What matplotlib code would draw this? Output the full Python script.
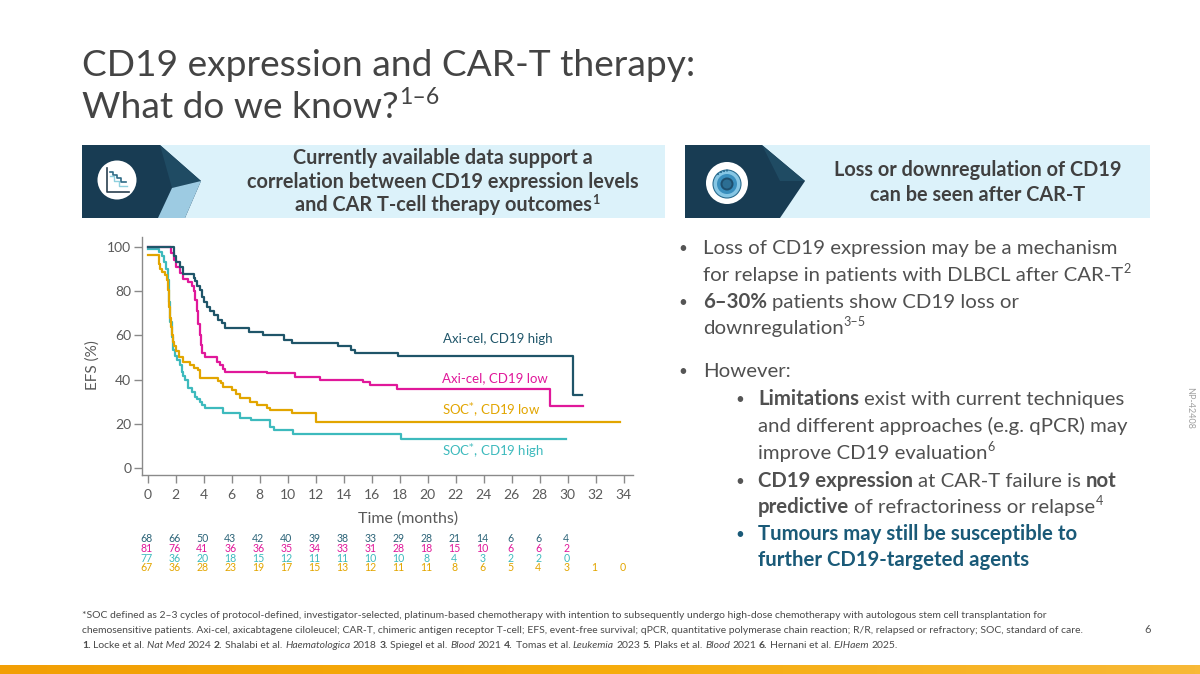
import matplotlib
matplotlib.use('Agg')
import numpy as np
import matplotlib.pyplot as plt
from matplotlib.patches import Rectangle, Polygon, Circle
from matplotlib.transforms import blended_transform_factory
from matplotlib.colors import LinearSegmentedColormap

plt.rcParams['font.family'] = ['Lato', 'DejaVu Sans']

# === Daten ===
# Zeitpunkte der Stufen (Monate) und EFS (%) danach
axi_high_t = [0, 1.85, 2.05, 2.3, 2.55, 3.3, 3.4, 3.55, 3.7, 3.85, 4.0, 4.2, 4.45, 4.7,
              5.05, 5.3, 5.55, 7.2, 8.25, 9.7, 10.3, 13.6, 14.5, 14.8, 17.9, 30.4, 31.05]
axi_high_s = [100, 96, 93, 91, 87.5, 86, 84.5, 82.5, 80.5, 77.5, 75, 73, 71, 69,
              67, 65.5, 63.2, 61.7, 60.2, 58, 56.5, 55, 53.4, 52.2, 50.7, 33.1, 33.1]

axi_low_t = [0, 1.65, 1.85, 2.05, 2.3, 2.55, 2.9, 3.15, 3.28, 3.38, 3.5, 3.62, 3.7, 3.8,
             3.9, 4.1, 4.93, 5.16, 5.4, 5.52, 8.5, 10.5, 12.3, 15.4, 15.9, 17.8, 28.7, 31.1]
axi_low_s = [100, 97, 94, 91, 88, 85.5, 84, 82.5, 80, 76, 71, 65, 60, 55.5,
             52, 50.2, 48.1, 46.6, 45, 43.6, 42.9, 41.4, 39.9, 39.1, 37.6, 35.7, 28.1, 28.1]

soc_low_t = [0, 0.78, 0.9, 1.0, 1.24, 1.36, 1.47, 1.54, 1.6, 1.66, 1.72, 1.8, 1.9, 2.0,
             2.2, 2.5, 3.0, 3.3, 3.62, 3.74, 5.04, 5.2, 5.4, 6.0, 6.3, 6.6, 7.3, 7.8,
             8.5, 8.7, 10.3, 12.0, 33.7]
soc_low_s = [96.5, 92, 90, 88.8, 87.3, 85, 80.5, 73, 68, 64, 60, 57, 55, 53,
             50.4, 48.1, 46.6, 45.5, 44.4, 40.6, 39.5, 38.4, 36.8, 35.3, 33.5, 31.6, 30.1, 28.6,
             27.1, 26.3, 24.8, 21.0, 21.0]

soc_high_t = [0, 0.78, 1.0, 1.15, 1.3, 1.47, 1.55, 1.62, 1.7, 1.8, 1.95, 2.07, 2.3, 2.42,
              2.55, 2.67, 2.9, 3.14, 3.38, 3.55, 3.74, 3.9, 4.1, 5.4, 6.6, 7.4, 8.7, 9.0,
              10.4, 18.1, 29.9]
soc_high_s = [99, 97.5, 96, 93, 90, 85, 75, 66, 59.4, 53.4, 50.5, 48.9, 46.6, 43.6,
              41.5, 39.9, 36.1, 34.6, 32.3, 31.2, 30.1, 28.5, 27.1, 24.8, 22.6, 21.6, 18.8, 17.3,
              15.4, 13.1, 13.1]

# Patienten unter Risiko
risk_months = list(range(0, 36, 2))
risk_axi_high = [68, 66, 50, 43, 42, 40, 39, 38, 33, 29, 28, 21, 14, 6, 6, 4]
risk_axi_low = [81, 76, 41, 36, 36, 35, 34, 33, 31, 28, 18, 15, 10, 6, 6, 2]
risk_soc_high = [77, 36, 20, 18, 15, 12, 11, 11, 10, 10, 8, 4, 3, 2, 2, 0]
risk_soc_low = [67, 36, 28, 23, 19, 17, 15, 13, 12, 11, 11, 8, 6, 5, 4, 3, 1, 0]

C_DARK = '#1f5569'
C_MAG = '#e0189a'
C_YEL = '#e2a500'
C_CYAN = '#3dbabd'
C_TXT = '#404040'
C_GREY = '#5a5a5a'

# === Figur ===
W, H = 1200, 674
fig = plt.figure(figsize=(12, 6.74), dpi=100)
fig.patch.set_facecolor('white')
bg = fig.add_axes([0, 0, 1, 1])
bg.set_xlim(0, W)
bg.set_ylim(H, 0)
bg.axis('off')

renderer = fig.canvas.get_renderer()


def space_w(size, weight='normal'):
    a = bg.text(0, 0, 'x x', fontsize=size, fontweight=weight)
    b = bg.text(0, 0, 'xx', fontsize=size, fontweight=weight)
    w = a.get_window_extent(renderer).width - b.get_window_extent(renderer).width
    a.remove()
    b.remove()
    return w


def rich(x, y, parts, size, color=C_TXT):
    # parts: (text, flags) flags: b=bold, i=italic, s=hochgestellt
    for txt, flags in parts:
        s = size * 0.62 if 's' in flags else size
        yy = y - size * 1.389 * 0.38 if 's' in flags else y
        weight = 'bold' if 'b' in flags else 'normal'
        style = 'italic' if 'i' in flags else 'normal'
        core = txt.rstrip(' ')
        t = bg.text(x, yy, core, fontsize=s, fontweight=weight, fontstyle=style,
                    color=color, va='baseline', ha='left')
        x += t.get_window_extent(renderer).width
        if len(txt) > len(core):
            x += space_w(s, weight) * (len(txt) - len(core))
    return x


# --- Titel ---
rich(82, 76, [('CD19 expression and CAR-T therapy:', '')], 26.7, color='#444444')
rich(82, 118, [('What do we know?', ''), ('1–6', 's')], 26.7, color='#444444')

# --- Banner links ---
bg.add_patch(Rectangle((160, 145), 505, 73, fc='#dcf2fa', ec='none'))
bg.add_patch(Polygon([(82, 145), (160, 145), (201, 181), (185, 218), (82, 218)],
                     closed=True, fc='#183c53', ec='none'))
bg.add_patch(Polygon([(160, 145), (201, 181), (172, 188)], closed=True, fc='#1f4b63', ec='none'))
bg.add_patch(Polygon([(172, 188), (201, 181), (185, 218), (158, 218)], closed=True,
                     fc='#9dcbe2', ec='none'))
bg.add_patch(Circle((117, 180), 19.5, fc='white', ec='none'))
bg.plot([107, 107, 129], [168, 192, 192], color='#2a3f4f', lw=1.2)
bg.plot([110, 113, 113, 117, 117, 121, 121, 126], [172, 172, 175, 175, 178, 178, 182, 182],
        color='#2f6b86', lw=1.2)
bg.plot([110, 114, 114, 119, 119, 127], [176, 176, 181, 181, 186, 186], color='#8fd0de', lw=1.0)

HFS = 14.3
for i, line in enumerate(['Currently available data support a',
                          'correlation between CD19 expression levels']):
    bg.text(443, 164 + 23.5 * i, line, fontsize=HFS, fontweight='bold', color=C_TXT,
            ha='center', va='baseline')
t3 = bg.text(443, 211, 'and CAR T-cell therapy outcomes', fontsize=HFS, fontweight='bold',
             color=C_TXT, ha='center', va='baseline')
bb = t3.get_window_extent(renderer)
bg.text(443 + bb.width / 2 + 1, 204, '1', fontsize=9, fontweight='bold', color=C_TXT,
        ha='left', va='baseline')

# --- Banner rechts ---
bg.add_patch(Rectangle((760, 145), 390, 73, fc='#dcf2fa', ec='none'))
bg.add_patch(Polygon([(685, 145), (762, 145), (805, 181), (780, 218), (685, 218)],
                     closed=True, fc='#183c53', ec='none'))
bg.add_patch(Polygon([(762, 145), (805, 181), (780, 181)], closed=True, fc='#1f4b63', ec='none'))
bg.add_patch(Circle((727, 183), 21, fc='white', ec='none'))
bg.add_patch(Circle((727, 184), 14, fc='#86c6e4', ec='#2b6d90', lw=0.8))
bg.add_patch(Circle((727, 184), 10, fc='#3a8fbe', ec='none'))
bg.add_patch(Circle((727, 184), 6.5, fc='#1e4f6e', ec='none'))
bg.add_patch(Circle((727, 184), 4.5, fc='#2c6e93', ec='none'))
for dx, dy in [(-9, -10), (-6, -12), (-3, -13), (0, -13.5)]:
    bg.add_patch(Circle((727 + dx, 184 + dy), 1.1, fc='#2b6d90', ec='none'))

bg.text(978, 176, 'Loss or downregulation of CD19', fontsize=HFS, fontweight='bold',
        color=C_TXT, ha='center', va='baseline')
bg.text(978, 201, 'can be seen after CAR-T', fontsize=HFS, fontweight='bold',
        color=C_TXT, ha='center', va='baseline')

# --- Aufzählung rechts ---
FS = 14.7
C_BUL = '#555555'
C_TEAL = '#1a5a78'
x1, x2 = 703, 758
b1, b2 = 678, 735
rows = [
    (254, b1, x1, [('Loss of CD19 expression may be a mechanism', '')], C_BUL, True),
    (281, None, x1, [('for relapse in patients with DLBCL after CAR-T', ''), ('2', 's')], C_BUL, False),
    (308, b1, x1, [('6–30% ', 'b'), ('patients show CD19 loss or', '')], C_BUL, True),
    (334, None, x1, [('downregulation', ''), ('3–5', 's')], C_BUL, False),
    (377, b1, x1, [('However:', '')], C_BUL, True),
    (405, b2, x2, [('Limitations ', 'b'), ('exist with current techniques', '')], C_BUL, True),
    (432, None, x2, [('and different approaches (e.g. qPCR) may', '')], C_BUL, False),
    (459, None, x2, [('improve CD19 evaluation', ''), ('6', 's')], C_BUL, False),
    (487, b2, x2, [('CD19 expression ', 'b'), ('at CAR-T failure is ', ''), ('not', 'b')], C_BUL, True),
    (513, None, x2, [('predictive ', 'b'), ('of refractoriness or relapse', ''), ('4', 's')], C_BUL, False),
    (540, b2, x2, [('Tumours may still be susceptible to', 'b')], C_TEAL, True),
    (566, None, x2, [('further CD19-targeted agents', 'b')], C_TEAL, False),
]
for y, bx, x, parts, col, bullet in rows:
    if bullet:
        bg.text(bx, y - 1, '•', fontsize=11, color=col, ha='left', va='baseline')
    rich(x, y, parts, FS, color=col if col == C_TEAL else '#505050')

# --- Diagramm ---
x_lo, x_hi = -0.43, 34.66
y_lo, y_hi = -2.98, 104.5
px_l, px_r, px_t, px_b = 141.7, 633.0, 236.8, 474.9
ax = fig.add_axes([px_l / W, 1 - px_b / H, (px_r - px_l) / W, (px_b - px_t) / H])
ax.patch.set_alpha(0)
ax.set_xlim(x_lo, x_hi)
ax.set_ylim(y_lo, y_hi)

ax.step(soc_high_t, soc_high_s, where='post', color=C_CYAN, lw=1.6)
ax.step(soc_low_t, soc_low_s, where='post', color=C_YEL, lw=1.6)
ax.step(axi_low_t, axi_low_s, where='post', color=C_MAG, lw=1.6)
ax.step(axi_high_t, axi_high_s, where='post', color=C_DARK, lw=1.6)

for side in ['top', 'right']:
    ax.spines[side].set_visible(False)
for side in ['left', 'bottom']:
    ax.spines[side].set_color('#8a8a8a')
    ax.spines[side].set_linewidth(1.0)
ax.set_xticks(risk_months)
ax.set_yticks(range(0, 101, 20))
ax.tick_params(axis='both', colors='#8a8a8a', labelcolor=C_GREY, labelsize=10,
               length=5.5, width=1.0)
ax.tick_params(axis='x', pad=5)
ax.tick_params(axis='y', pad=2)

lab_kw = dict(fontsize=9.5, va='center', ha='left')
ax.text(21.1, 58.4, 'Axi-cel, CD19 high', color=C_DARK, **lab_kw)
ax.text(21.0, 40.8, 'Axi-cel, CD19 low', color=C_MAG, **lab_kw)
ax.text(21.0, 25.9, 'SOC$^{*}$, CD19 low', color=C_YEL, **lab_kw)
ax.text(21.0, 7.4, 'SOC$^{*}$, CD19 high', color=C_CYAN, **lab_kw)

bg.text(93, 365, 'EFS (%)', fontsize=11, color=C_GREY, rotation=90, ha='center', va='center')
bg.text(408, 519, 'Time (months)', fontsize=11.5, color=C_GREY, ha='center', va='center')

# Patienten unter Risiko: x aus Daten-Achse, y in Pixeln
risk_tr = blended_transform_factory(ax.transData, bg.transData)
for vals, col, yy in [(risk_axi_high, '#2c6478', 539), (risk_axi_low, C_MAG, 548.5),
                      (risk_soc_high, C_CYAN, 558), (risk_soc_low, C_YEL, 567.5)]:
    for m, v in zip(risk_months, vals):
        ax.text(m - 0.1, yy, str(v), transform=risk_tr, fontsize=7.6, color=col,
                ha='center', va='center', clip_on=False)

# --- Fußnote ---
FN = 7.5
C_FN = '#4a4a4a'
rich(82, 618, [('*SOC defined as 2–3 cycles of protocol-defined, investigator-selected, platinum-based '
                'chemotherapy with intention to subsequently undergo high-dose chemotherapy with '
                'autologous stem cell transplantation for', '')], FN, color=C_FN)
rich(82, 633, [('chemosensitive patients. Axi-cel, axicabtagene ciloleucel; CAR-T, chimeric antigen '
                'receptor T-cell; EFS, event-free survival; qPCR, quantitative polymerase chain '
                'reaction; R/R, relapsed or refractory; SOC, standard of care.', '')], FN, color=C_FN)
rich(82, 648, [('1. ', 'b'), ('Locke et al. ', ''), ('Nat Med ', 'i'), ('2024 ', ''),
               ('2. ', 'b'), ('Shalabi et al. ', ''), ('Haematologica ', 'i'), ('2018 ', ''),
               ('3. ', 'b'), ('Spiegel et al. ', ''), ('Blood ', 'i'), ('2021 ', ''),
               ('4. ', 'b'), ('Tomas et al. ', ''), ('Leukemia ', 'i'), ('2023 ', ''),
               ('5. ', 'b'), ('Plaks et al. ', ''), ('Blood ', 'i'), ('2021 ', ''),
               ('6. ', 'b'), ('Hernani et al. ', ''), ('EJHaem ', 'i'), ('2025.', '')], FN, color=C_FN)

bg.text(1148, 633, '6', fontsize=8, color='#555555', ha='center', va='baseline')
bg.text(1190, 408, 'NP-42408', fontsize=6.5, color='#a0a0a0', rotation=270,
        ha='center', va='center')

# --- Oranger Balken unten ---
grad = np.linspace(0, 1, 256).reshape(1, -1)
orange = LinearSegmentedColormap.from_list('orange', ['#f29f05', '#f6ac0c', '#f8b937'])
bg.imshow(grad, extent=[0, W, H, 665], cmap=orange, aspect='auto', zorder=0)
bg.set_xlim(0, W)
bg.set_ylim(H, 0)

fig.savefig('out.png', dpi=100, facecolor='white')
